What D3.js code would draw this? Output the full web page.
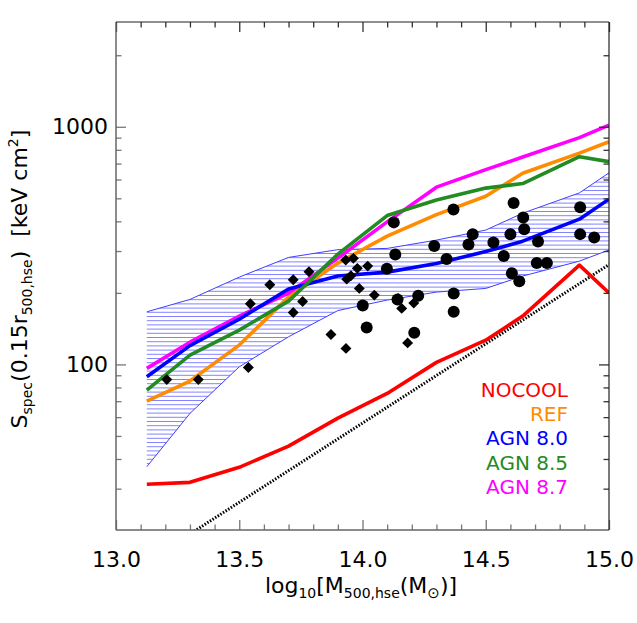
<!doctype html>
<html lang="en">
  <head>
    <meta charset="utf-8">
    <title>Entropy - mass relation</title>
    <script src="https://d3js.org/d3.v7.min.js"></script>
    <style>
      body { margin: 0; background: #fff; }
      text { font-family: "DejaVu Sans", sans-serif; fill: #000; }
      .tick text { font-size: 22px; }
    </style>
  </head>
  <body>
    <div id="holder"></div>
  <script>
      // mass bins of the simulation medians (log10 M500)
      const massBins = [13.125, 13.3, 13.5, 13.7, 13.9, 14.1, 14.3, 14.5, 14.65, 14.88, 15.0];
      const nocool = [31.3, 31.9, 36.9, 45.3, 59.4, 75.5, 102, 126.5, 159.7, 261.7, 200];
      const ref    = [70.1, 85.1, 120.6, 192, 267, 346.7, 427, 510, 637, 775, 865];
      const agn80  = [88.7, 120, 155, 207.5, 235.4, 244.5, 266, 298.5, 330, 408.6, 496];
      const agn85  = [78, 109.5, 139.4, 184.6, 291, 423, 491.5, 552, 577, 748, 713];
      const agn87  = [96.2, 124, 159.7, 199.5, 280, 398, 557, 660, 746, 900, 1017];
      // scatter band around AGN 8.0
      const bandHi = [166.5, 187.7, 233, 282, 304, 307.7, 333.5, 367.5, 433, 527, 640];
      const bandLo = [37.1, 62.2, 97.7, 130.7, 168.5, 186.5, 201.5, 208.8, 235.4, 272, 303];
      // self-similar S ~ M^(2/3)
      const selfSimMass = [13.0, 15.0];
      const selfSimS = [12.2, 263];

      // observed groups (diamonds) and clusters (circles)
      const groupMass = [13.206, 13.334, 13.537, 13.545, 13.624, 13.719, 13.757, 13.719, 13.783, 13.872, 13.933,
                         13.932, 13.963, 13.979, 14.021, 13.936, 13.953, 13.987, 14.048, 14.145, 14.159, 14.208, 14.183];
      const groupS = [86.3, 86.3, 97, 179.9, 216.3, 227, 183.8, 165.5, 245.4, 133.7, 116.8,
                      274.8, 279.4, 253.6, 259.2, 228.5, 236, 208.9, 195.7, 189.6, 172.1, 181.1, 123.2];
      const clusterMass = [14.127, 14.369, 14.613, 14.652, 14.656, 14.600, 14.447, 14.430, 14.531, 14.291,
                           14.133, 14.341, 14.573, 14.099, 14.712, 14.883, 14.883, 14.940, 14.707, 14.748,
                           14.606, 14.636, 14.370, 14.370, 14.226, 14.001, 14.142, 14.017, 14.210];
      const clusterS = [396, 449, 477.5, 415.6, 370.5, 352.8, 352.8, 319.3, 326.2, 314.7,
                        290.3, 277.4, 286.2, 252.6, 329.4, 458, 353.4, 342.3, 266.9, 266.9,
                        241.7, 223.6, 199, 166.5, 194.4, 176.8, 187.4, 143.1, 135.9];

      const xMajor = [13.0, 13.5, 14.0, 14.5, 15.0];
      const yMajor = [100, 1000];

      const legendNames = ['NOCOOL', 'REF', 'AGN 8.0', 'AGN 8.5', 'AGN 8.7'];
      const legendColors = ['#ff0000', '#ff8c00', '#0000ff', '#228b22', '#ff00ff'];

      const margin = {top: 22, left: 116};
      const w = 493, h = 508;

      const x = d3.scaleLinear().domain([13, 15]).range([0, w]);
      const y = d3.scaleLog().domain([20.1, 2760]).range([h, 0]);

      const svg = d3.select('#holder').append('svg')
          .attr('width', 637)
          .attr('height', 623);

      const defs = svg.append('defs');
      defs.append('clipPath').attr('id', 'plotclip')
          .append('rect').attr('width', w).attr('height', h);

      const g = svg.append('g')
          .attr('transform', 'translate(' + margin.left + ',' + margin.top + ')');

      const plot = g.append('g').attr('clip-path', 'url(#plotclip)');

      // hatched band
      const bandArea = d3.area()
          .x(function(d, i) { return x(massBins[i]); })
          .y0(function(d, i) { return y(bandLo[i]); })
          .y1(function(d, i) { return y(bandHi[i]); });
      defs.append('clipPath').attr('id', 'bandclip')
          .append('path').attr('d', bandArea(massBins));
      plot.append('g').attr('clip-path', 'url(#bandclip)')
          .selectAll('line')
          .data(d3.range(0.5, h, 4.2))
          .enter().append('line')
          .attr('x1', 0).attr('x2', w)
          .attr('y1', function(d) { return d; })
          .attr('y2', function(d) { return d; })
          .attr('stroke', '#5a5aff')
          .attr('stroke-width', 1)
          .attr('opacity', 0.75);

      const lineOf = function(vals) {
          return d3.line()
              .x(function(d, i) { return x(massBins[i]); })
              .y(function(d) { return y(d); })(vals);
      };
      [bandHi, bandLo].forEach(function(b) {
          plot.append('path').attr('d', lineOf(b))
              .attr('fill', 'none').attr('stroke', '#3f3fff').attr('stroke-width', 1);
      });

      // self-similar line
      plot.append('path')
          .attr('d', d3.line()
              .x(function(d, i) { return x(selfSimMass[i]); })
              .y(function(d) { return y(d); })(selfSimS))
          .attr('fill', 'none')
          .attr('stroke', '#000')
          .attr('stroke-width', 3)
          .attr('stroke-dasharray', '1.5,1.6');

      const series = [nocool, ref, agn87, agn80, agn85];
      const seriesColors = ['#ff0000', '#ff8c00', '#ff00ff', '#0000ff', '#228b22'];
      series.forEach(function(s, k) {
          plot.append('path').attr('d', lineOf(s))
              .attr('fill', 'none')
              .attr('stroke', seriesColors[k])
              .attr('stroke-width', 3.6)
              .attr('stroke-linejoin', 'round');
      });

      // points
      plot.selectAll('.grp')
          .data(groupMass)
          .enter().append('path')
          .attr('class', 'grp')
          .attr('d', d3.symbol().type(d3.symbolSquare).size(60))
          .attr('transform', function(d, i) {
              return 'translate(' + x(d) + ',' + y(groupS[i]) + ') rotate(45)';
          })
          .attr('fill', '#000');

      plot.selectAll('.cl')
          .data(clusterMass)
          .enter().append('circle')
          .attr('class', 'cl')
          .attr('cx', function(d) { return x(d); })
          .attr('cy', function(d, i) { return y(clusterS[i]); })
          .attr('r', 6)
          .attr('fill', '#000');

      // axes, ticks pointing inward
      const xMinor = d3.range(13.1, 15, 0.1).filter(function(v) { return Math.abs(v * 2 - Math.round(v * 2)) > 1e-6; });
      const yMinor = [30, 40, 50, 60, 70, 80, 90, 200, 300, 400, 500, 600, 700, 800, 900, 2000];

      const addAxis = function(axis, tr, col) {
          const a = g.append('g').attr('transform', tr).call(axis);
          a.select('.domain').remove();
          a.selectAll('.tick line').attr('stroke', col).attr('stroke-width', 1.3);
          return a;
      };

      addAxis(d3.axisBottom(x).tickValues(xMajor).tickFormat(d3.format('.1f'))
          .tickSizeInner(-10).tickSizeOuter(0).tickPadding(21), 'translate(0,' + h + ')', '#777');
      addAxis(d3.axisBottom(x).tickValues(xMinor).tickFormat('')
          .tickSizeInner(-5.5).tickSizeOuter(0), 'translate(0,' + h + ')', '#777');
      addAxis(d3.axisTop(x).tickValues(xMajor).tickFormat('')
          .tickSizeInner(-10).tickSizeOuter(0), 'translate(0,0)', '#333');
      addAxis(d3.axisTop(x).tickValues(xMinor).tickFormat('')
          .tickSizeInner(-5.5).tickSizeOuter(0), 'translate(0,0)', '#333');

      addAxis(d3.axisLeft(y).tickValues(yMajor).tickFormat(d3.format('d'))
          .tickSizeInner(-10).tickSizeOuter(0).tickPadding(8), 'translate(0,0)', '#777');
      addAxis(d3.axisLeft(y).tickValues(yMinor).tickFormat('')
          .tickSizeInner(-5.5).tickSizeOuter(0), 'translate(0,0)', '#777');
      addAxis(d3.axisRight(y).tickValues(yMajor).tickFormat('')
          .tickSizeInner(-10).tickSizeOuter(0), 'translate(' + w + ',0)', '#333');
      addAxis(d3.axisRight(y).tickValues(yMinor).tickFormat('')
          .tickSizeInner(-5.5).tickSizeOuter(0), 'translate(' + w + ',0)', '#333');

      g.selectAll('.tick text').attr('font-family', '"DejaVu Sans", sans-serif').attr('fill', '#000');

      // frame
      g.append('line').attr('x1', 0).attr('x2', 0).attr('y1', 0).attr('y2', h)
          .attr('stroke', '#666').attr('stroke-width', 1.5);
      g.append('line').attr('x1', 0).attr('x2', w).attr('y1', h).attr('y2', h)
          .attr('stroke', '#666').attr('stroke-width', 1.5);
      g.append('line').attr('x1', 0).attr('x2', w).attr('y1', 0).attr('y2', 0)
          .attr('stroke', '#222').attr('stroke-width', 1.2);
      g.append('line').attr('x1', w).attr('x2', w).attr('y1', 0).attr('y2', h)
          .attr('stroke', '#222').attr('stroke-width', 1.2);

      // axis titles
      const xt = svg.append('text')
          .attr('x', 361).attr('y', 593)
          .attr('text-anchor', 'middle')
          .style('font-size', '22px');
      xt.append('tspan').text('log');
      xt.append('tspan').attr('dy', 5).style('font-size', '14px').text('10');
      xt.append('tspan').attr('dy', -5).text('[M');
      xt.append('tspan').attr('dy', 5).style('font-size', '14px').text('500,hse');
      xt.append('tspan').attr('dy', -5).text('(M');
      xt.append('tspan').attr('dy', 5).style('font-size', '15px').text('\u2299');
      xt.append('tspan').attr('dy', -5).text(')]');

      const yt = svg.append('text')
          .attr('transform', 'translate(27,279) rotate(-90)')
          .attr('text-anchor', 'middle')
          .style('font-size', '22px');
      yt.append('tspan').text('S');
      yt.append('tspan').attr('dy', 5).style('font-size', '14px').text('spec');
      yt.append('tspan').attr('dy', -5).text('(0.15r');
      yt.append('tspan').attr('dy', 5).style('font-size', '14px').text('500,hse');
      yt.append('tspan').attr('dy', -5).text(')\u00a0\u00a0[keV cm');
      yt.append('tspan').attr('dy', -9).style('font-size', '14px').text('2');
      yt.append('tspan').attr('dy', 9).text(']');

      // legend
      svg.selectAll('.legend')
          .data(legendNames)
          .enter().append('text')
          .attr('class', 'legend')
          .attr('x', 568)
          .attr('y', function(d, i) { return 396.7 + i * 24.3; })
          .attr('text-anchor', 'end')
          .style('font-size', '20px')
          .style('fill', function(d, i) { return legendColors[i]; })
          .text(function(d) { return d; });
  </script>
  </body>
</html>
